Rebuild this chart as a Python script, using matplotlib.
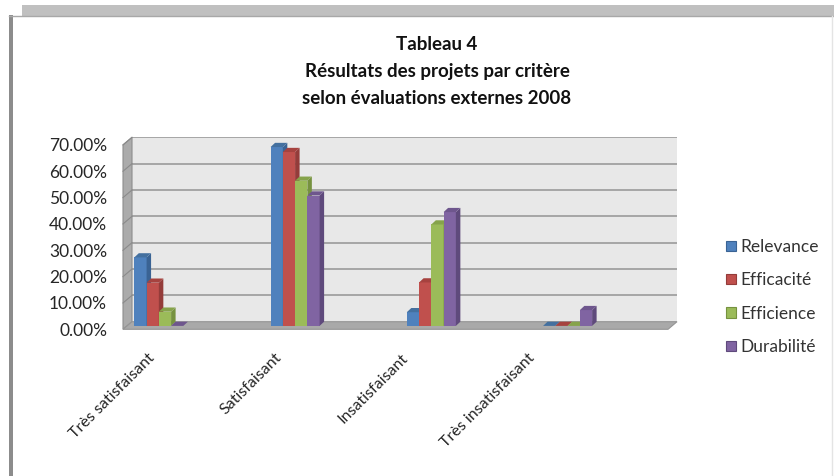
import numpy as np
import matplotlib
matplotlib.use('Agg')
import matplotlib.pyplot as plt
from matplotlib.patches import Polygon, Rectangle, Patch
from matplotlib.transforms import ScaledTranslation

# --- données ---
CATEGORIES = ['Très satisfaisant', 'Satisfaisant', 'Insatisfaisant', 'Très insatisfaisant']
SERIES = ['Relevance', 'Efficacité', 'Efficience', 'Durabilité']
RELEVANCE = [0.260, 0.679, 0.052, 0.0]
EFFICACITE = [0.164, 0.660, 0.165, 0.0]
EFFICIENCE = [0.054, 0.551, 0.385, 0.0]
DURABILITE = [0.0, 0.495, 0.432, 0.060]
Y_TICKS = [0.0, 0.1, 0.2, 0.3, 0.4, 0.5, 0.6, 0.7]
TITLE = 'Tableau 4\nRésultats des projets par critère\nselon évaluations externes 2008'

VALUES = [RELEVANCE, EFFICACITE, EFFICIENCE, DURABILITE]
FACE = ['#4F81BD', '#C0504D', '#9BBB59', '#8064A2']
SIDE = ['#3A6394', '#943C3A', '#76923F', '#5F4A7C']
TOP = ['#44709F', '#A6423F', '#86A34B', '#6E568D']

plt.rcParams['font.family'] = ['Lato', 'DejaVu Sans']

W, H = 834, 476
fig = plt.figure(figsize=(W / 100, H / 100), dpi=100, facecolor='white')

# cadre de l'image (coordonnées pixels)
frame = fig.add_axes([0, 0, 1, 1], zorder=-5)
frame.set_xlim(0, W)
frame.set_ylim(H, 0)
frame.axis('off')
frame.add_patch(Rectangle((22, 5), W - 22, 10.5, color='#C0C0C0', lw=0))
frame.plot([9, W], [16, 16], color='#A8A8A8', lw=1)
frame.add_patch(Rectangle((9, 15), 4.5, H - 15, color='#8C8C8C', lw=0))
frame.plot([W - 1.5, W - 1.5], [16, H], color='#E4E4E4', lw=1)

# mur du fond
left_px, right_px, top_px, bot_px = 132, 677, 137.3, 321.7
ax = fig.add_axes([left_px / W, 1 - bot_px / H, (right_px - left_px) / W, (bot_px - top_px) / H])
ax.set_xlim(0, 4)
ax.set_ylim(0, 0.7)
ax.set_facecolor('#E8E8E8')
for s in ax.spines.values():
    s.set_visible(False)

px_x = (right_px - left_px) / 4.0
px_y = (bot_px - top_px) / 0.7
# profondeur du sol / des barres (pixels -> données)
ddx, ddy = 9 / px_x, 7.6 / px_y
bdx, bdy = 4.5 / px_x, 4.2 / px_y

# grille + traits sur le mur gauche
for t in Y_TICKS[1:]:
    ax.plot([0, 4], [t, t], color='#A0A0A0', lw=1.3, zorder=1)
    ax.plot([-ddx, 0], [t - ddy, t], color='#8A8A8A', lw=0.8, zorder=2, clip_on=False)

# mur gauche et sol
ax.add_patch(Polygon([(0, 0), (0, 0.7), (-ddx, 0.7 - ddy), (-ddx, -ddy)],
                     closed=True, fc='#ABABAB', ec='#8E8E8E', lw=0.8, zorder=1.5, clip_on=False))
ax.add_patch(Polygon([(0, 0), (4, 0), (4 - ddx, -ddy), (-ddx, -ddy)],
                     closed=True, fc='#A9A9A9', ec='#959595', lw=0.8, zorder=1.5, clip_on=False))

# barres pseudo-3D
bw = 0.09
start = 0.05
for j, vals in enumerate(VALUES):
    xl = np.arange(len(CATEGORIES)) + start + j * bw
    ax.bar(xl - bdx, vals, width=bw, bottom=-bdy, align='edge', color=FACE[j],
           lw=0, zorder=3 + j * 0.1, clip_on=False)
    for x0, v in zip(xl, vals):
        ax.add_patch(Polygon([(x0 + bw - bdx, -bdy), (x0 + bw, 0), (x0 + bw, v), (x0 + bw - bdx, v - bdy)],
                             closed=True, fc=SIDE[j], lw=0, zorder=3 + j * 0.1, clip_on=False))
        ax.add_patch(Polygon([(x0 - bdx, v - bdy), (x0 + bw - bdx, v - bdy), (x0 + bw, v), (x0, v)],
                             closed=True, fc=TOP[j], lw=0, zorder=3 + j * 0.1, clip_on=False))

# axe Y (aligné sur le plan avant)
ax.set_yticks(Y_TICKS)
ax.set_yticklabels([f'{t * 100:.2f}%' for t in Y_TICKS])
ax.tick_params(axis='y', length=0, pad=18, labelsize=12.5, labelcolor='#262626')
shift = ScaledTranslation(0, -7.6 / 100, fig.dpi_scale_trans)
for lab in ax.get_yticklabels():
    lab.set_transform(lab.get_transform() + shift)

# axe X
ax.set_xticks(np.arange(len(CATEGORIES)) * 0.93 + 0.115)
ax.set_xticklabels(CATEGORIES, rotation=45, ha='right', rotation_mode='anchor')
ax.tick_params(axis='x', length=0, pad=21, labelsize=11.5, labelcolor='#262626')

# titre
fig.text(437 / W, 1 - 36 / H, TITLE, ha='center', va='top', fontsize=13.5, fontweight='bold',
         color='#111111', linespacing=1.72)

# légende
handles = [Patch(fc=FACE[j], ec=SIDE[j], lw=0.8) for j in range(len(SERIES))]
fig.legend(handles, SERIES, loc='upper left', bbox_to_anchor=(726 / W, 1 - 239 / H),
           frameon=False, fontsize=12.5, labelcolor='#333333', handlelength=0.55, handleheight=0.55,
           handletextpad=0.3, labelspacing=1.0, borderpad=0, borderaxespad=0)

fig.savefig('out.png', dpi=100)
